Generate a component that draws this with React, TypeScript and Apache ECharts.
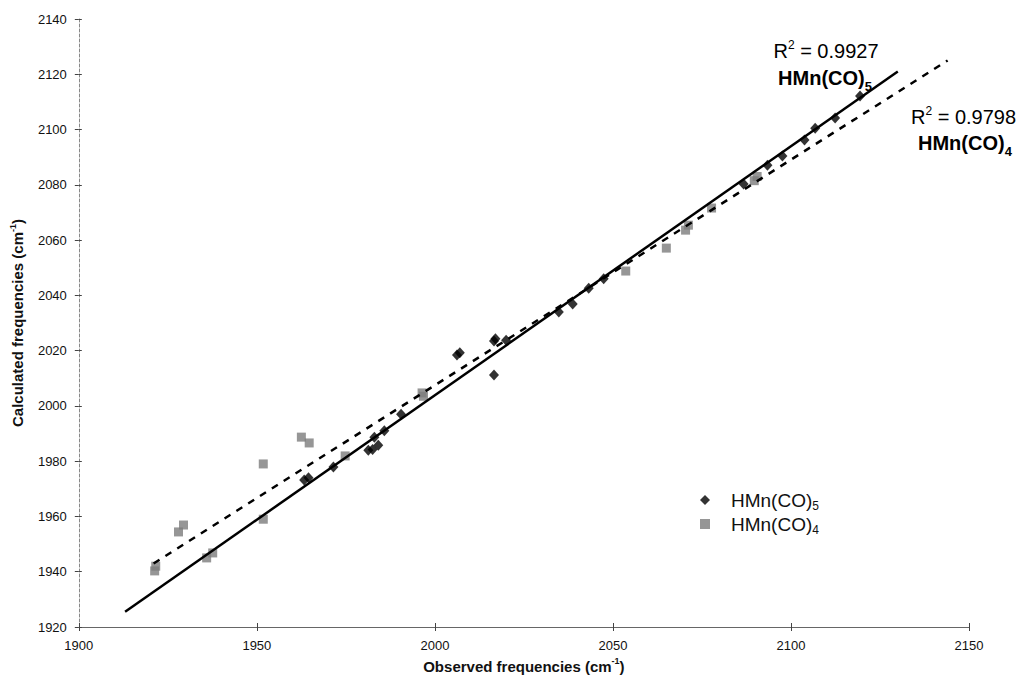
import React, { useEffect, useRef } from "react";
import * as echarts from "echarts";

// HMn(CO)5 : observed vs calculated (cm-1)
const obs5 = [1963.3, 1964.5, 1971.5, 1981.3, 1982.5, 1983, 1984.1, 1985.8, 1990.5, 2006.2, 2007, 2016.6, 2017, 2020, 2016.6, 2034.8, 2038.7, 2043.2, 2047.4, 2086.7, 2093.4, 2097.6, 2103.8, 2106.8, 2112.4, 2119.4];
const calc5 = [1973.2, 1974, 1977.9, 1984, 1984.2, 1988.7, 1985.8, 1991, 1997, 2018.4, 2019.2, 2023.5, 2024.3, 2023.8, 2011.2, 2034, 2036.9, 2042.6, 2046, 2080.3, 2087.1, 2090.4, 2096.2, 2100.5, 2104.2, 2112.1];

// HMn(CO)4 : observed vs calculated (cm-1)
const obs4 = [1921.3, 1921.6, 1928, 1929.4, 1935.9, 1937.6, 1951.8, 1951.8, 1962.5, 1964.7, 1974.8, 1996.4, 1996.8, 2053.6, 2065, 2070.4, 2071.2, 2077.7, 2089.7, 2090.5];
const calc4 = [1940.3, 1942, 1954.4, 1956.9, 1945, 1946.8, 1959, 1979, 1988.7, 1986.6, 1981.9, 2004.7, 2003.5, 2048.8, 2057.1, 2063.6, 2065.4, 2071.6, 2081.5, 2083];

// regression line end points
const fit5X = [1913, 2130];
const fit5Y = [1925.5, 2121];
const fit4X = [1921, 2144];
const fit4Y = [1943, 2125];

const r2Labels = ["0.9927", "0.9798"];
const seriesNames = ["HMn(CO)5", "HMn(CO)4"];

const FONT = "'Liberation Sans', Arial, Helvetica, sans-serif";

const zip = (xs: number[], ys: number[]) => xs.map((x, i) => [x, ys[i]]);

export default function App() {
  const ref = useRef<HTMLDivElement>(null);
  useEffect(() => {
    if (!ref.current) return;
    const chart = echarts.init(ref.current, null, { renderer: "svg" });
    const richBase = {
      n: { fontSize: 20, fontFamily: FONT, color: "#111", lineHeight: 24 },
      b: { fontSize: 20, fontFamily: FONT, color: "#111", fontWeight: "bold", lineHeight: 24 },
      sup: { fontSize: 12, fontFamily: FONT, color: "#111", lineHeight: 24, padding: [0, 0, 12, 0] },
      sub: { fontSize: 13, fontFamily: FONT, color: "#111", fontWeight: "bold", lineHeight: 24, padding: [16, 0, 0, 0] },
    };
    const nameStyle = {
      fontSize: 15,
      fontWeight: "bold",
      fontFamily: FONT,
      color: "#111",
      lineHeight: 18,
      rich: {
        sup: { fontSize: 9, fontWeight: "bold", fontFamily: FONT, color: "#111", lineHeight: 18, padding: [0, 0, 10, 0] },
      },
    };
    const labelFmt = (v: number) => String(v);
    chart.setOption({
      animation: false,
      backgroundColor: "#fff",
      grid: { left: 77, top: 19, right: 58, bottom: 56 },
      xAxis: [
        {
          type: "value",
          min: 1900,
          max: 2150,
          interval: 50,
          position: "bottom",
          splitLine: { show: false },
          axisLine: { show: true, lineStyle: { color: "#666", width: 1 } },
          axisTick: { show: true, inside: false, length: 4, lineStyle: { color: "#444" } },
          axisLabel: { fontSize: 13, fontFamily: FONT, color: "#111", margin: 12, formatter: labelFmt },
          name: "Observed frequencies (cm{sup|-1})",
          nameLocation: "middle",
          nameGap: 28,
          nameTextStyle: nameStyle,
        },
        {
          type: "value",
          min: 1900,
          max: 2150,
          interval: 50,
          position: "bottom",
          splitLine: { show: false },
          axisLine: { show: false },
          axisTick: { show: true, inside: true, length: 4, lineStyle: { color: "#444" } },
          axisLabel: { show: false },
        },
      ],
      yAxis: [
        {
          type: "value",
          min: 1920,
          max: 2140,
          interval: 20,
          splitLine: { show: false },
          axisLine: { show: true, lineStyle: { color: "#888", width: 1, type: [3, 2] } },
          axisTick: { show: true, inside: false, length: 4, lineStyle: { color: "#444" } },
          axisLabel: { fontSize: 13, fontFamily: FONT, color: "#111", margin: 12, formatter: labelFmt },
          name: "Calculated frequencies (cm{sup|-1})",
          nameLocation: "middle",
          nameRotate: 90,
          nameGap: 50,
          nameTextStyle: nameStyle,
        },
        {
          type: "value",
          min: 1920,
          max: 2140,
          interval: 20,
          position: "left",
          splitLine: { show: false },
          axisLine: { show: false },
          axisTick: { show: true, inside: true, length: 3, lineStyle: { color: "#444" } },
          axisLabel: { show: false },
        },
      ],
      legend: {
        orient: "vertical",
        left: 695,
        top: 483,
        itemWidth: 10,
        itemHeight: 10,
        itemGap: 0,
        data: seriesNames.map((n) => ({ name: n })),
        formatter: (name: string) => (name === seriesNames[0] ? "{t|HMn(CO)}{s|5}" : "{t|HMn(CO)}{s|4}"),
        textStyle: {
          fontSize: 19,
          fontFamily: FONT,
          color: "#111",
          padding: [0, 0, 0, 16],
          rich: {
            t: { fontSize: 19, fontFamily: FONT, color: "#111", lineHeight: 19 },
            s: { fontSize: 12, fontFamily: FONT, color: "#111", lineHeight: 19, padding: [12, 0, 0, 0] },
          },
        },
      },
      series: [
        {
          name: seriesNames[0],
          type: "scatter",
          symbol: "diamond",
          symbolSize: [10, 11],
          itemStyle: { color: "#000" },
          data: zip(obs5, calc5),
          z: 4,
        },
        {
          name: seriesNames[1],
          type: "scatter",
          symbol: "rect",
          symbolSize: 9,
          itemStyle: { color: "#7c7c7c" },
          data: zip(obs4, calc4),
          z: 3,
        },
        {
          name: "fit5",
          type: "line",
          showSymbol: false,
          symbol: "none",
          lineStyle: { color: "#000", width: 2.5 },
          data: zip(fit5X, fit5Y),
          z: 5,
        },
        {
          name: "fit4",
          type: "line",
          showSymbol: false,
          symbol: "none",
          lineStyle: { color: "#000", width: 2.5, type: [7, 7] },
          data: zip(fit4X, fit4Y),
          z: 5,
        },
      ],
      graphic: [
        {
          type: "text",
          x: 826,
          y: 51,
          style: {
            text: `{n|R}{sup|2}{n| = ${r2Labels[0]}}`,
            rich: richBase,
            align: "center",
            verticalAlign: "middle",
          },
        },
        {
          type: "text",
          x: 825,
          y: 78,
          style: {
            text: "{b|HMn(CO)}{sub|5}",
            rich: richBase,
            align: "center",
            verticalAlign: "middle",
          },
        },
        {
          type: "text",
          x: 911,
          y: 117,
          style: {
            text: `{n|R}{sup|2}{n| = ${r2Labels[1]}}`,
            rich: richBase,
            align: "left",
            verticalAlign: "middle",
          },
        },
        {
          type: "text",
          x: 918,
          y: 143,
          style: {
            text: "{b|HMn(CO)}{sub|4}",
            rich: richBase,
            align: "left",
            verticalAlign: "middle",
          },
        },
      ],
    });
    return () => chart.dispose();
  }, []);
  return <div ref={ref} style={{ position: "fixed", left: 0, top: 0, width: 1027, height: 683 }} />;
}
